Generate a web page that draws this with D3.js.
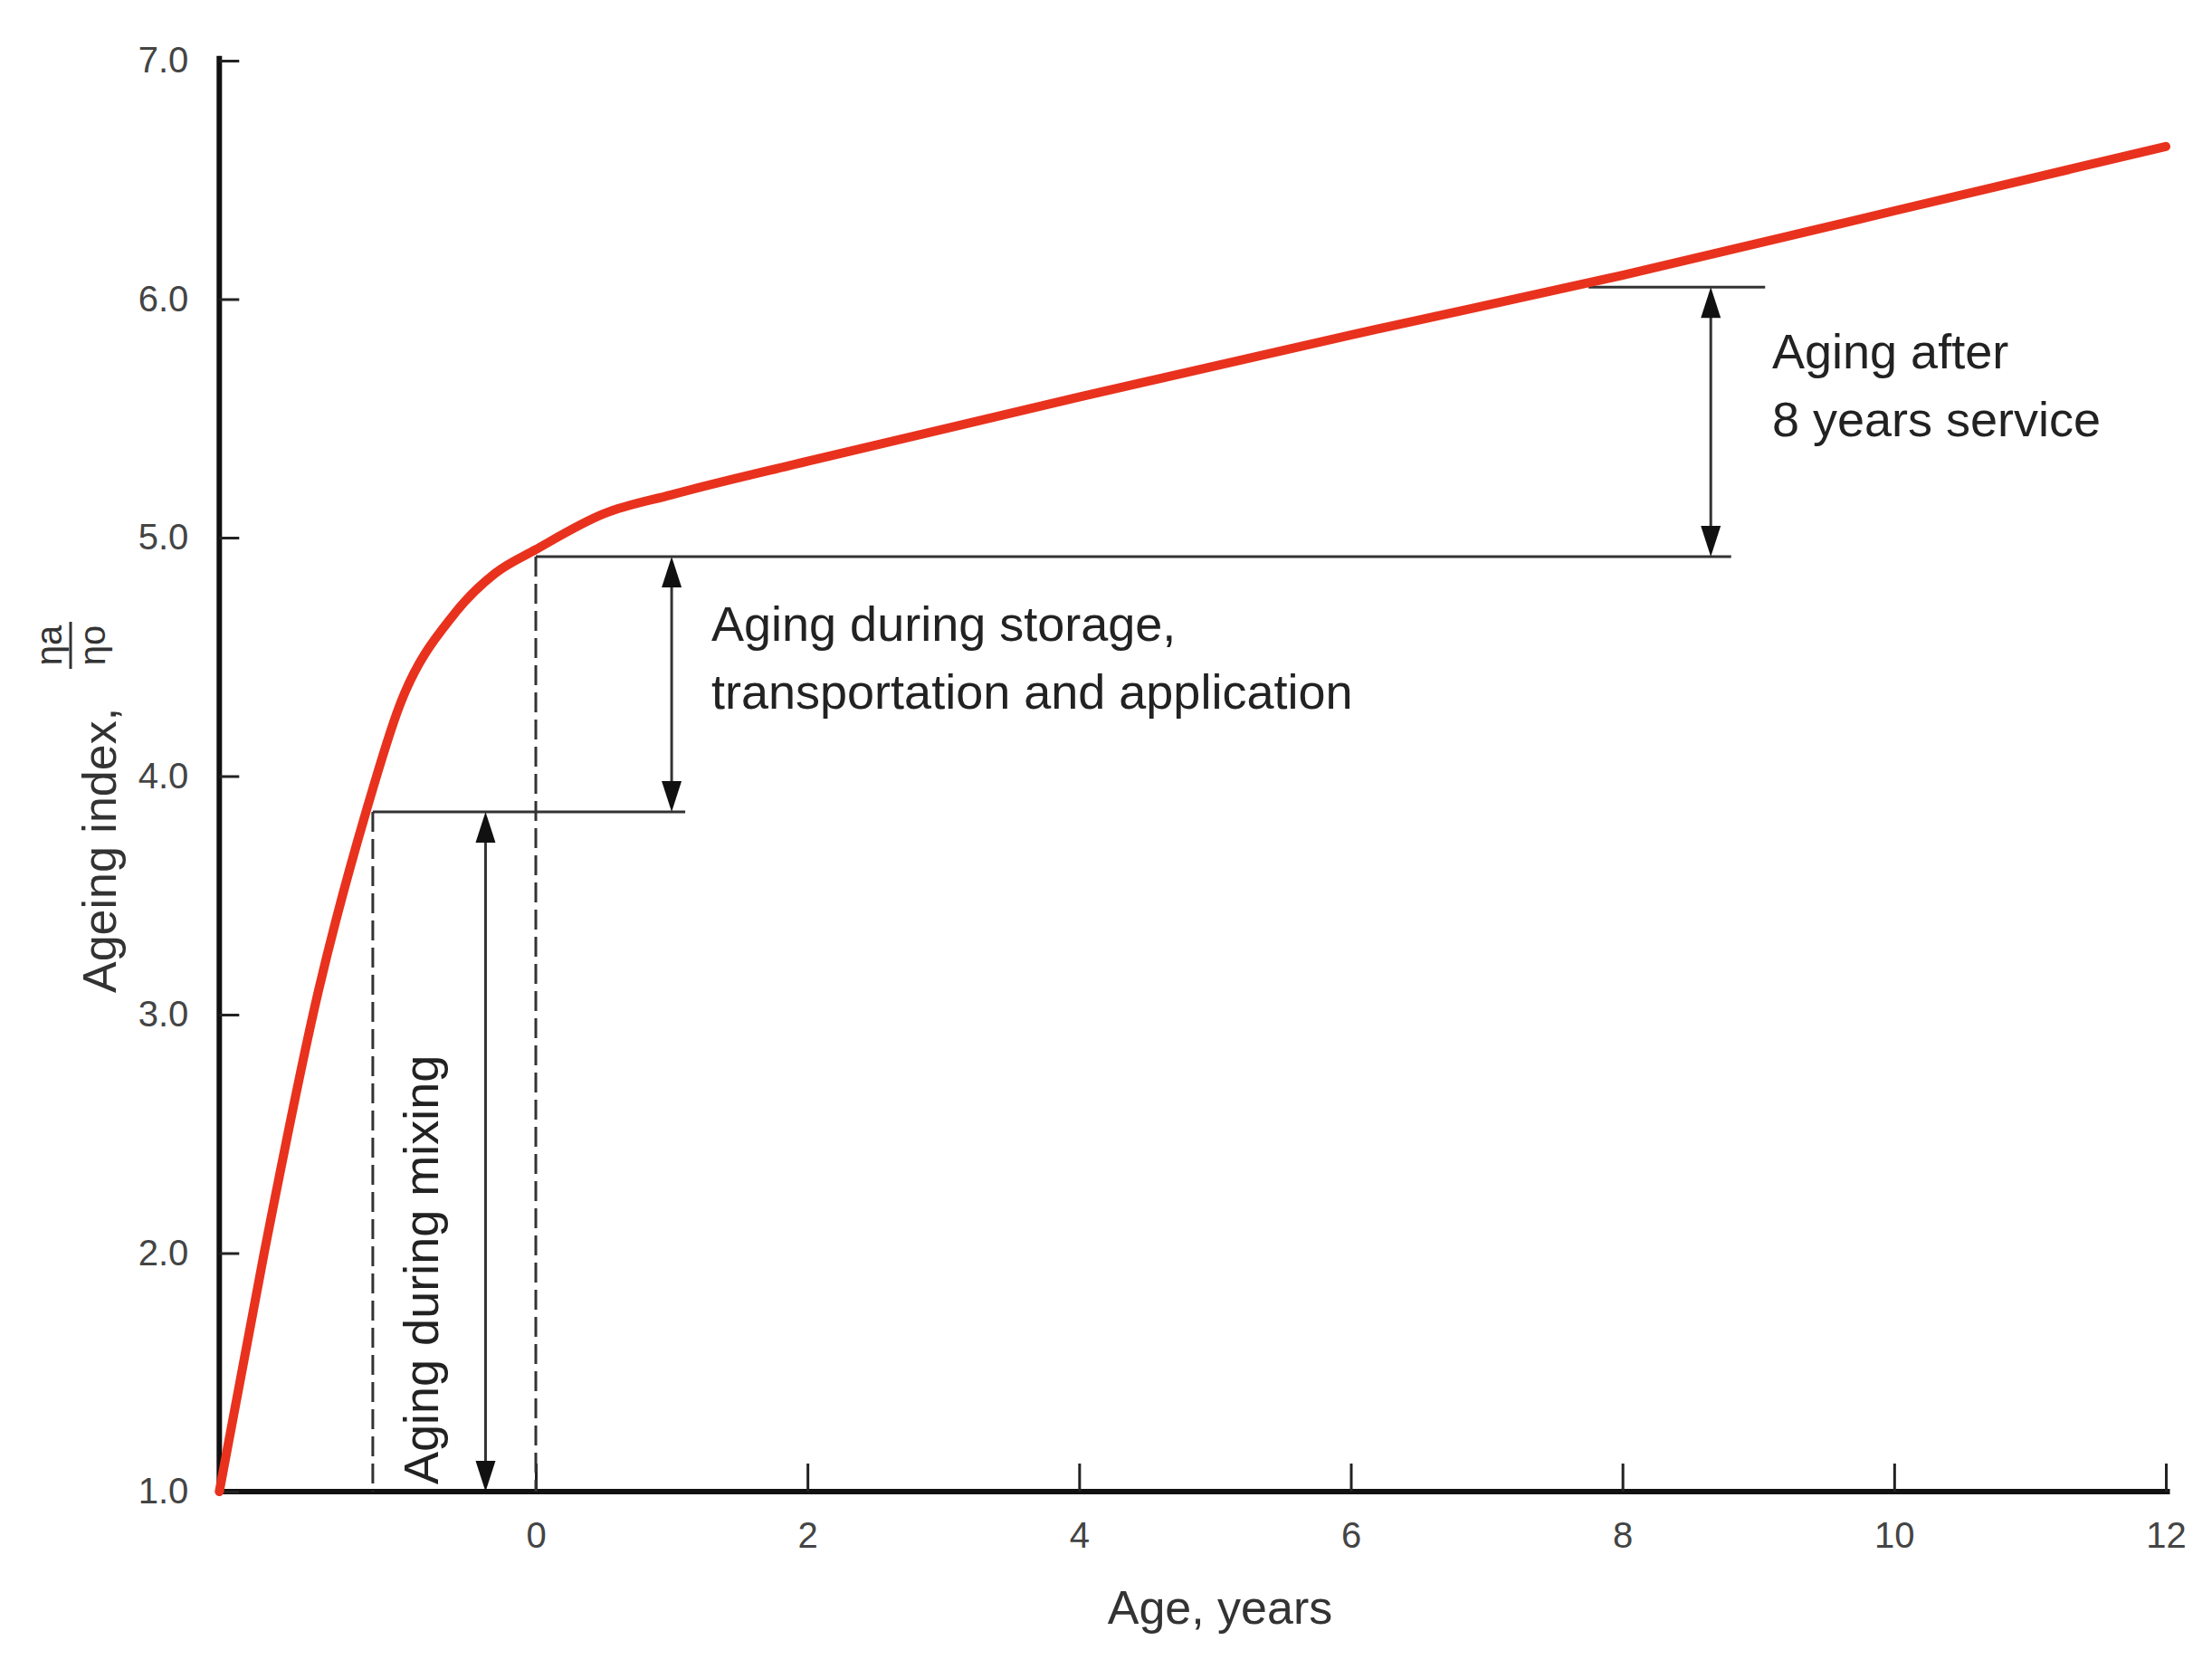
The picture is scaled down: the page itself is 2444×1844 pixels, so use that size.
<!DOCTYPE html>
<html><head><meta charset="utf-8">
<script src="https://cdn.jsdelivr.net/npm/d3@7"></script>
<style>body{margin:0;background:#fff}text{font-family:"Liberation Sans Narrow","Liberation Sans",Arial,sans-serif}</style>
</head><body><svg id="c" width="2444" height="1844"></svg>
<script>
const ageX = [-2.33,-2.0,-1.6,-1.25,-1.0,-0.6,-0.3,0,0.5,1,2,4,6,8,10,12];
const indexY = [1.0,2.0,3.1,3.85,4.3,4.68,4.85,4.95,5.1,5.18,5.32,5.59,5.85,6.1,6.37,6.64];
const xTicks = [0,2,4,6,8,10,12];
const yTicks = [1,2,3,4,5,6,7];
const mixX = -1.2, arrowMixX = -0.37, mixTop = 3.85;
const storeTop = 4.92, storeArrowX = 1.0, storeLineEnd = 1.1;
const serviceTop = 6.05, serviceArrowX = 8.65;

const svg = d3.select("#c");
const x = d3.scaleLinear().domain([0,12]).range([592,2393]);
const y = d3.scaleLinear().domain([1,7]).range([1648,67]);
const x0 = x(-2.33);

// axes
const ax = svg.append("g").attr("transform",`translate(0,${y(1)})`)
  .call(d3.axisBottom(x).tickValues(xTicks).tickSize(-31).tickPadding(34));
ax.select(".domain").attr("d",`M${x0},0H${x(12.03)}`).attr("stroke","#111").attr("stroke-width",6);
ax.selectAll(".tick line").attr("stroke","#222").attr("stroke-width",3);
ax.selectAll("text").attr("font-size",40).attr("fill","#444");
const ay = svg.append("g").attr("transform",`translate(${x0},0)`)
  .call(d3.axisLeft(y).tickValues(yTicks).tickSize(-22).tickPadding(34));
ay.select(".domain").attr("d",`M0,${y(1)}V${y(7.02)}`).attr("stroke","#111").attr("stroke-width",6);
ay.selectAll(".tick line").attr("stroke","#222").attr("stroke-width",3);
ay.selectAll("text").attr("font-size",40).attr("fill","#444");

const ln = (x1,y1,x2,y2,dash)=>svg.append("line").attr("x1",x1).attr("y1",y1).attr("x2",x2).attr("y2",y2)
  .attr("stroke","#333").attr("stroke-width",3).attr("stroke-dasharray",dash||null);
// dashed verticals
ln(x(mixX),y(mixTop),x(mixX),y(1),"22,8");
ln(x(0),y(storeTop),x(0),y(1),"22,8");
// horizontals
ln(x(mixX),y(mixTop),x(storeLineEnd),y(mixTop));
ln(x(0),y(storeTop),x(8.8),y(storeTop));
ln(x(7.75),y(serviceTop),x(9.05),y(serviceTop));

function arrow(xv,ya,yb){
  const X=x(xv),A=y(ya),B=y(yb); // A top, B bottom
  ln(X,A+30,X,B-30);
  svg.append("path").attr("d",`M${X},${A}l-11,34h22z`).attr("fill","#111");
  svg.append("path").attr("d",`M${X},${B}l-11,-34h22z`).attr("fill","#111");
}
arrow(arrowMixX,mixTop,1);
arrow(storeArrowX,storeTop,mixTop);
arrow(serviceArrowX,serviceTop,storeTop);

// curve
svg.append("path").datum(ageX.map((d,i)=>[d,indexY[i]]))
  .attr("d",d3.line().x(d=>x(d[0])).y(d=>y(d[1])).curve(d3.curveMonotoneX))
  .attr("fill","none").attr("stroke","#e8321e").attr("stroke-width",10).attr("stroke-linecap","round");

// annotations
const t=(s,X,Y,fs)=>svg.append("text").attr("x",X).attr("y",Y).attr("font-size",fs||54).attr("fill","#222").text(s);
t("Aging during storage,",786,708);
t("transportation and application",786,783);
t("Aging after",1958,407);
t("8 years service",1958,482);
svg.append("text").attr("transform",`translate(484,1640) rotate(-90)`).attr("font-size",54).attr("fill","#222").text("Aging during mixing");

t("Age, years",1348,1794,52).attr("text-anchor","middle").attr("fill","#333");
const g = svg.append("g").attr("transform","translate(128,1097) rotate(-90)");
g.append("text").attr("font-size",52).attr("fill","#333").text("Ageing index,");
g.append("text").attr("x",384).attr("y",-60).attr("font-size",40).attr("text-anchor","middle").attr("fill","#333").text("ηa");
g.append("line").attr("x1",358).attr("x2",410).attr("y1",-50).attr("y2",-50).attr("stroke","#333").attr("stroke-width",3);
g.append("text").attr("x",384).attr("y",-12).attr("font-size",40).attr("text-anchor","middle").attr("fill","#333").text("ηo");
</script></body></html>
